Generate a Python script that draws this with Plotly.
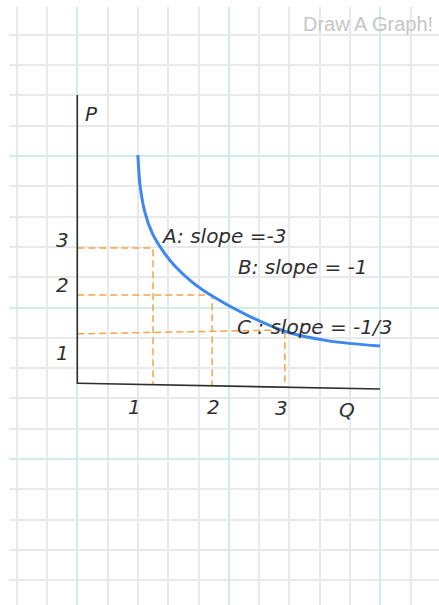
import plotly.graph_objects as go

# Coordinates are in squared-paper cells (1 unit = one grid cell),
# origin at the lower teal line crossing the vertical axis.

# demand-style curve, hand-traced
curve_q = [2.00, 2.07, 2.23, 2.47, 2.80, 3.22, 3.79, 4.45, 5.60, 6.92, 8.34, 9.99]
curve_p = [10.03, 9.04, 8.15, 7.46, 6.90, 6.37, 5.84, 5.38, 4.75, 4.19, 3.89, 3.73]

# hand-drawn axes
vaxis_q = [0.0, 0.0]
vaxis_p = [12.01, 2.475]
haxis_q = [0.01, 9.99]
haxis_p = [2.50, 2.31]

# dashed guides for points A, B, C
guide_q = [2.50, 4.45, 6.85]
guide_p_left = [6.96, 5.41, 4.13]
guide_p_corner = [6.96, 5.41, 4.26]
guide_p_floor = [2.475, 2.43, 2.36]

# slope notes
slope_text = ["A: slope =-3", "B: slope = -1", "C : slope = -1/3"]
slope_q = [2.70, 5.24, 5.21]
slope_p = [7.36, 6.34, 4.36]

# axis numbers and names
p_tick_text = ["3", "2", "1"]
p_tick_p = [7.23, 5.74, 3.50]
p_tick_q = -0.50
q_tick_text = ["1", "2", "3", "Q"]
q_tick_q = [1.90, 4.49, 6.75, 8.89]
q_tick_p = [1.73, 1.72, 1.68, 1.62]
p_name = ("P", 0.47, 11.37)

INK = "#2f2f2f"
HAND = dict(family="DejaVu Sans", size=20, color=INK, style="italic")

fig = go.Figure()

for q, pl, pc, pf in zip(guide_q, guide_p_left, guide_p_corner, guide_p_floor):
    fig.add_trace(go.Scatter(
        x=[0, q, q], y=[pl, pc, pf], mode="lines",
        line=dict(color="#f2a54a", width=1.5, dash="7px,4px"),
        hoverinfo="skip", showlegend=False))

fig.add_trace(go.Scatter(x=vaxis_q, y=vaxis_p, mode="lines",
                         line=dict(color=INK, width=1.6),
                         hoverinfo="skip", showlegend=False))
fig.add_trace(go.Scatter(x=haxis_q, y=haxis_p, mode="lines",
                         line=dict(color=INK, width=1.6),
                         hoverinfo="skip", showlegend=False))

fig.add_trace(go.Scatter(x=curve_q, y=curve_p, mode="lines",
                         line=dict(color="#3d87ee", width=3, shape="spline", smoothing=0.8),
                         hoverinfo="skip", showlegend=False))

annotations = []
for t, q, p in zip(slope_text, slope_q, slope_p):
    annotations.append(dict(x=q, y=p, text=t, xanchor="left", yanchor="middle",
                            showarrow=False, font=HAND))
for t, p in zip(p_tick_text, p_tick_p):
    annotations.append(dict(x=p_tick_q, y=p, text=t, xanchor="center", yanchor="middle",
                            showarrow=False, font=HAND))
for t, q, p in zip(q_tick_text, q_tick_q, q_tick_p):
    annotations.append(dict(x=q, y=p, text=t, xanchor="center", yanchor="middle",
                            showarrow=False, font=HAND))
annotations.append(dict(x=p_name[1], y=p_name[2], text=p_name[0], xanchor="center",
                        yanchor="middle", showarrow=False, font=HAND))
annotations.append(dict(xref="paper", yref="paper", x=0.991, y=0.972, text="Draw A Graph!",
                        xanchor="right", yanchor="middle", showarrow=False,
                        font=dict(family="Liberation Sans", size=20, color="#c6c6c6")))

grid_axis = dict(
    showticklabels=False, ticks="", zeroline=False, showline=False,
    showgrid=True, gridcolor="#cfeee8", gridwidth=1.5, dtick=5, tick0=0,
    minor=dict(showgrid=True, gridcolor="#e9e9e9", gridwidth=1.5, dtick=1, tick0=0),
    fixedrange=True,
)

fig.update_layout(
    width=439, height=605,
    margin=dict(l=9, r=0, t=7, b=0),
    paper_bgcolor="white", plot_bgcolor="white",
    xaxis=dict(range=[-2.254, 11.937], **grid_axis),
    yaxis=dict(range=[-4.818, 14.917], **grid_axis),
    annotations=annotations,
    showlegend=False,
)

fig.write_html("out.html")
